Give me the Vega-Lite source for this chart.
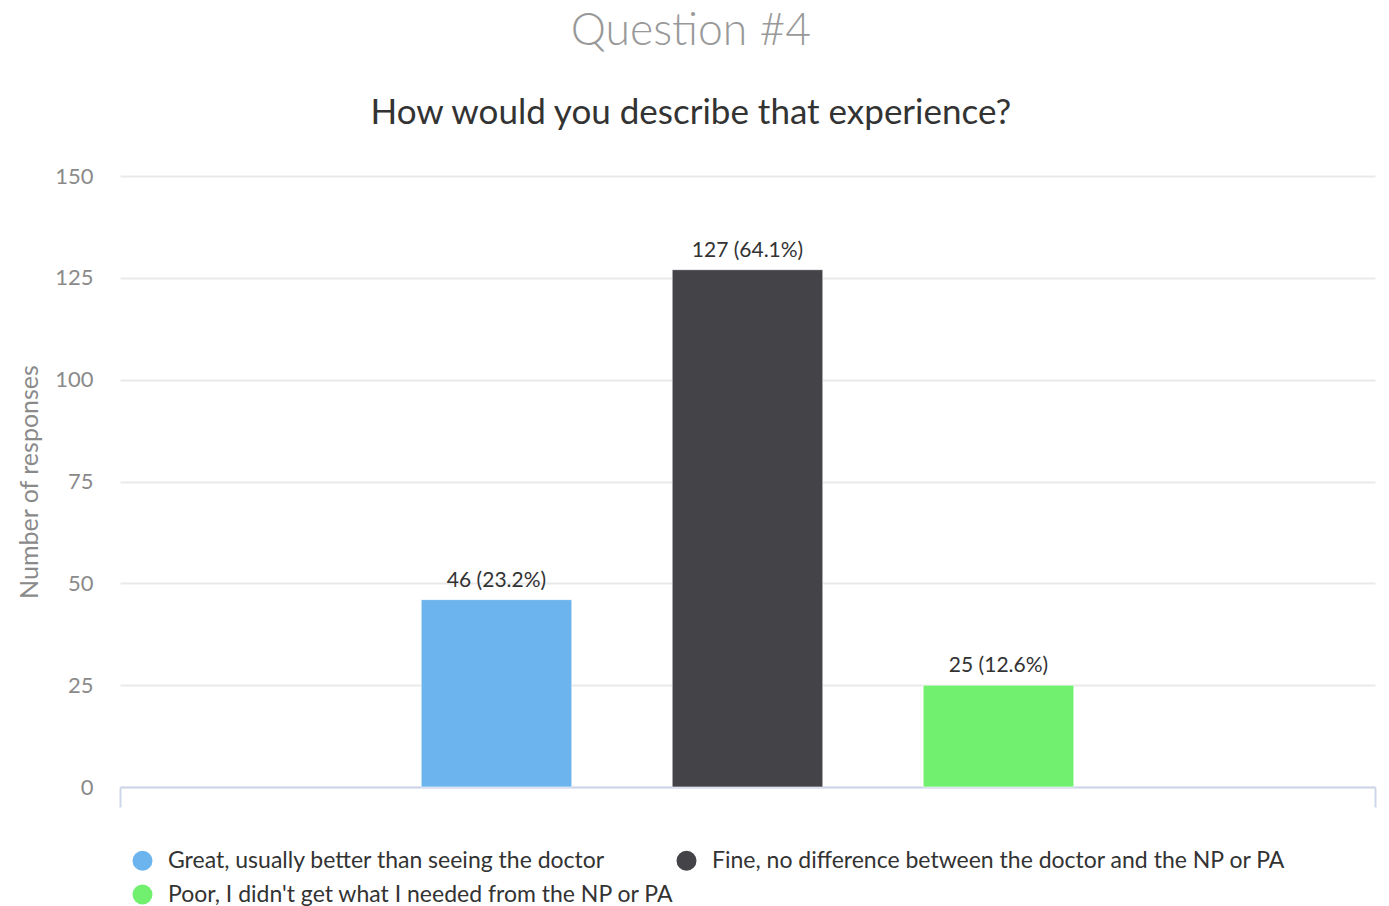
{
  "$schema": "https://vega.github.io/schema/vega-lite/v6.json",
  "width": 1255,
  "height": 611,
  "autosize": {"type": "none"},
  "padding": {"left": 120, "top": 176, "right": 14, "bottom": 119},
  "background": "#ffffff",
  "config": {"font": "Lato", "view": {"stroke": null}},
  "title": {
    "text": "Question #4",
    "subtitle": "How would you describe that experience?",
    "anchor": "middle",
    "frame": "bounds",
    "fontSize": 44.5,
    "fontWeight": 300,
    "color": "#999999",
    "subtitleFontSize": 35,
    "subtitleColor": "#333333",
    "subtitleFontWeight": "normal",
    "subtitlePadding": 42,
    "offset": 33,
    "dx": -6
  },
  "data": {
    "values": [
      {"q": "Question #4", "answer": "Great, usually better than seeing the doctor", "count": 46, "label": "46 (23.2%)"},
      {"q": "Question #4", "answer": "Fine, no difference between the doctor and the NP or PA", "count": 127, "label": "127 (64.1%)"},
      {"q": "Question #4", "answer": "Poor, I didn't get what I needed from the NP or PA", "count": 25, "label": "25 (12.6%)"}
    ]
  },
  "encoding": {
    "x": {
      "field": "q",
      "type": "nominal",
      "scale": {"paddingInner": 0, "paddingOuter": 0},
      "axis": {
        "labels": false,
        "title": null,
        "grid": false,
        "tickBand": "extent",
        "tickSize": 20,
        "tickColor": "#ccd6eb",
        "tickWidth": 2,
        "domainColor": "#ccd6eb",
        "domainWidth": 2
      }
    },
    "xOffset": {
      "field": "answer",
      "scale": {
        "domain": ["_a", "Great, usually better than seeing the doctor", "Fine, no difference between the doctor and the NP or PA", "Poor, I didn't get what I needed from the NP or PA", "_b"],
        "paddingInner": 0.4,
        "paddingOuter": 0.2
      }
    },
    "y": {
      "field": "count",
      "type": "quantitative",
      "scale": {"domain": [0, 150], "nice": false},
      "axis": {
        "values": [0, 25, 50, 75, 100, 125, 150],
        "title": "Number of responses",
        "titleFontSize": 25,
        "titleFontWeight": "normal",
        "titleColor": "#8a8a8a",
        "titlePadding": 12,
        "labelFontSize": 22,
        "labelColor": "#8a8a8a",
        "labelPadding": 27,
        "ticks": false,
        "tickSize": 0,
        "domain": false,
        "gridColor": "#e9e9e9",
        "gridWidth": 2
      }
    }
  },
  "layer": [
    {
      "mark": {"type": "bar", "stroke": "#ffffff", "strokeWidth": 1, "strokeOpacity": 0.6},
      "encoding": {
        "color": {
          "field": "answer",
          "type": "nominal",
          "scale": {
            "domain": ["Great, usually better than seeing the doctor", "Fine, no difference between the doctor and the NP or PA", "Poor, I didn't get what I needed from the NP or PA"],
            "range": ["#6cb4ee", "#434348", "#71ef6e"]
          },
          "legend": {
            "title": null,
            "orient": "none",
            "legendX": 11,
            "legendY": 673,
            "direction": "horizontal",
            "columns": 2,
            "columnPadding": -23,
            "rowPadding": 10,
            "symbolType": "circle",
            "symbolSize": 400,
            "symbolStrokeWidth": 0,
            "symbolOpacity": 1,
            "labelFontSize": 23,
            "labelColor": "#333333",
            "labelLimit": 900,
            "labelOffset": 14
          }
        }
      }
    },
    {
      "mark": {"type": "text", "baseline": "bottom", "dy": -9, "fontSize": 21, "color": "#333333"},
      "encoding": {
        "text": {"field": "label"}
      }
    }
  ]
}
